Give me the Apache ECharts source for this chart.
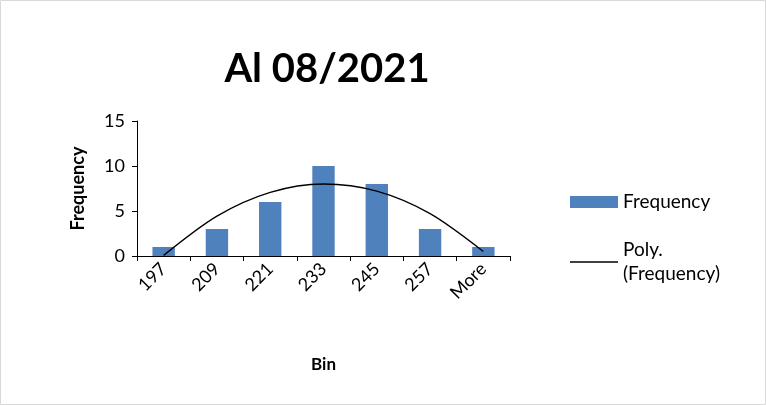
<!DOCTYPE html>
<html><head><meta charset="utf-8">
<script src="https://cdn.jsdelivr.net/npm/echarts@6/dist/echarts.min.js"></script>
<style>html,body{margin:0;padding:0;background:#fff}#c{width:766px;height:405px}</style>
</head><body><div id="c"></div>
<script>
var bins = ['197', '209', '221', '233', '245', '257', 'More'];
var frequency = [1, 3, 6, 10, 8, 3, 1];
var polyTrend = [0.07, 4.43, 7.07, 8.0, 7.21, 4.71, 0.5];
var yTicks = [0, 5, 10, 15];

var chart = echarts.init(document.getElementById('c'));
var font = 'Lato';
chart.setOption({
    animation: false,
    textStyle: { fontFamily: font },
    title: { text: 'Al 08/2021', left: 322, top: 44, textAlign: 'center',
        textStyle: { fontSize: 40, fontWeight: 'bold', color: '#000', fontFamily: font } },
    graphic: [{ type: 'rect', shape: { x: 0.5, y: 0.5, width: 765, height: 404 },
        style: { fill: 'none', stroke: '#d9d9d9', lineWidth: 1 }, silent: true }],
    grid: { left: 137, right: 256, top: 121, bottom: 149 },
    legend: {
        orient: 'vertical', left: 565, top: 185, itemGap: 24,
        itemWidth: 48, itemHeight: 12,
        textStyle: { fontSize: 19, color: '#000', fontFamily: font, lineHeight: 24 },
        data: [
            { name: 'Frequency', icon: 'rect' },
            { name: 'Poly.\n(Frequency)', icon: 'path://M0,0 L48,0 L48,1.5 L0,1.5 Z' }
        ]
    },
    xAxis: {
        type: 'category', data: bins,
        name: 'Bin', nameLocation: 'middle', nameGap: 100,
        nameTextStyle: { fontSize: 17, fontWeight: 'bold', color: '#000' },
        axisLine: { lineStyle: { color: '#000' } },
        axisTick: { show: true, alignWithLabel: false, lineStyle: { color: '#000' } },
        axisLabel: { rotate: 45, fontSize: 18, color: '#000', margin: 10 }
    },
    yAxis: {
        type: 'value', min: 0, max: 15, interval: 5,
        name: 'Frequency', nameLocation: 'middle', nameGap: 50,
        nameTextStyle: { fontSize: 18, fontWeight: 'bold', color: '#000' },
        axisLine: { show: true, lineStyle: { color: '#000' } },
        axisTick: { show: true, lineStyle: { color: '#000' } },
        splitLine: { show: false },
        axisLabel: { fontSize: 18, color: '#000', margin: 12,
            formatter: function (v) { return yTicks.indexOf(v) >= 0 ? v : ''; } }
    },
    series: [
        { name: 'Frequency', type: 'bar', data: frequency, barWidth: '42%',
          itemStyle: { color: '#4F81BD' } },
        { name: 'Poly.\n(Frequency)', type: 'line', data: polyTrend, smooth: 0.3,
          symbol: 'none', lineStyle: { color: '#000', width: 1.3 },
          itemStyle: { color: '#000' } }
    ]
});
</script></body></html>
